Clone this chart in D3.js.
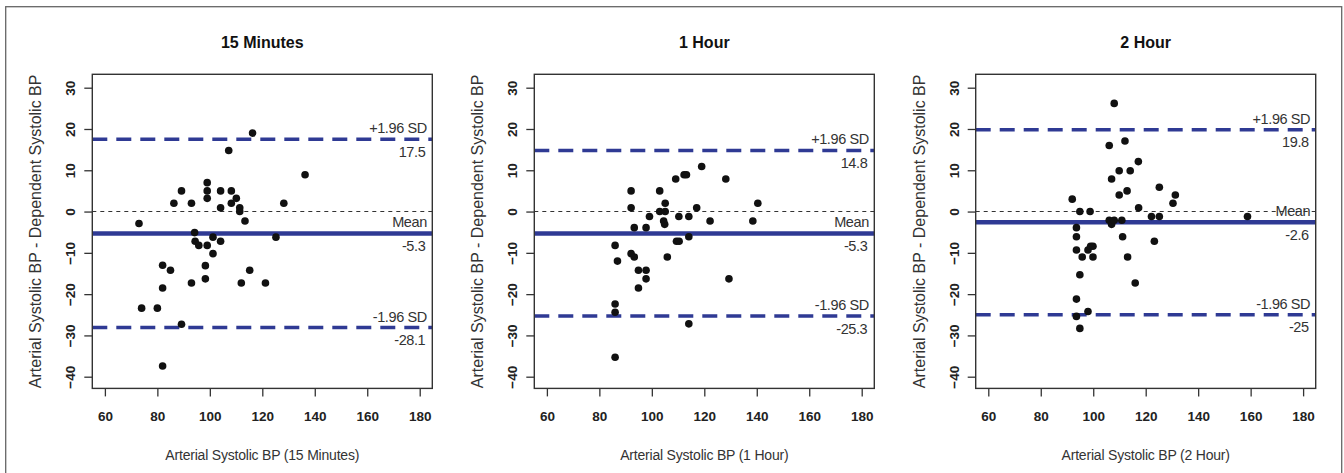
<!DOCTYPE html>
<html>
<head>
<meta charset="utf-8">
<script src="https://cdn.jsdelivr.net/npm/d3@7"></script>
<style>
  html, body { margin: 0; padding: 0; background: #fff; }
  svg { display: block; font-family: "Liberation Sans", Arial, Helvetica, sans-serif; }
</style>
</head>
<body>
<svg id="chart" width="1344" height="473"></svg>
<script>
// ---------------- data ----------------
const panelTitles = ["15 Minutes", "1 Hour", "2 Hour"];
const xTitles = ["Arterial Systolic BP (15 Minutes)", "Arterial Systolic BP (1 Hour)", "Arterial Systolic BP (2 Hour)"];
const yTitle = "Arterial Systolic BP - Dependent Systolic BP";
const xTicks = [60, 80, 100, 120, 140, 160, 180];
const yTicks = [-40, -30, -20, -10, 0, 10, 20, 30];
const meanValues = [-5.3, -5.3, -2.6];
const upperValues = [17.5, 14.8, 19.8];
const lowerValues = [-28.1, -25.3, -25];
const meanLabels = ["-5.3", "-5.3", "-2.6"];
const upperLabels = ["17.5", "14.8", "19.8"];
const lowerLabels = ["-28.1", "-25.3", "-25"];

const min15X = [73, 74, 80, 82, 82, 82, 85, 86.3, 89.2, 89.2, 93, 93, 94.2, 94.4, 95.8, 98.3, 98.3, 99, 99, 99, 99, 101.2, 101.2, 104.1, 104.1, 104.1, 107.2, 108.2, 108.2, 110.1, 111.4, 111.4, 112, 113.4, 115.2, 116.3, 121.2, 125.2, 128.2, 136.3];
const min15Y = [-2.9, -23.4, -23.4, -13, -18.5, -37.4, -14.2, 2, 5, -27.3, 2, -17.3, -5.1, -7.2, -8.2, -13.1, -16.3, 7, 5, 3.2, -8.2, -6.2, -10.2, 5, 0.9, -7.2, 14.8, 5, 2, 3.2, 0.9, 0, -17.3, -2.3, -14.2, 19, -17.3, -6.2, 2, 8.9];

const hour1X = [86, 86, 86, 86, 86.9, 92.1, 92.1, 92.1, 93.3, 93.3, 94.9, 94.9, 97.8, 97.8, 97.8, 99.1, 103, 103, 105.1, 104.5, 104.9, 105.1, 105.9, 109.1, 109.4, 110.4, 110.3, 112.3, 113.2, 114.1, 114.1, 114.1, 117.1, 119, 122.2, 128.2, 129.4, 138.5, 140.4];
const hour1Y = [-8.2, -22.4, -24.4, -35.3, -12, 5, 0.9, -10.2, -3.9, -11, -14.2, -18.5, -3.9, -14.2, -16.3, -1.2, 5, 0, 2, -2.3, -3.1, 0, -11, 7.9, -7.2, -7.2, -1.2, 8.9, 8.9, -1.2, -6.1, -27.2, 0.9, 10.9, -2.3, 7.9, -16.3, -2.3, 2];

const hour2X = [92, 93.6, 93.6, 93.6, 93.6, 93.6, 94.9, 94.9, 94.9, 95.8, 98, 98, 98.8, 99, 99.9, 99.9, 106.1, 106.1, 107, 107, 108, 108, 109.9, 109.9, 110.9, 111.2, 112.1, 112.9, 113.1, 114.1, 116, 117.2, 117.3, 122.2, 123.3, 125.2, 125.2, 130.4, 131.3, 158.8];
const hour2Y = [3, -3.9, -6.1, -9.3, -21.2, -25.4, 0, -15.3, -28.3, -11, -9.3, -24.2, 0, -8.4, -8.4, -11, 16, -2.1, 7.9, -3.1, 26.2, -2.1, 9.9, 4, -2.1, -6.1, 17.1, 5, -11, 9.9, -17.3, 12.1, 0.9, -1.2, -7.2, -1.2, 5.9, 2, 4, -1.2];

const seriesX = [min15X, hour1X, hour2X];
const seriesY = [min15Y, hour1Y, hour2Y];

// ---------------- layout ----------------
const panelLefts = [92.3, 534.3, 975.7];
const plotW = 340;
const boxTop = 74.3, boxBottom = 388.4;
const blue = "#2f3a94";

const svg = d3.select("#chart");

// outer figure border
svg.append("rect")
  .attr("x", 5.7).attr("y", 6.7)
  .attr("width", 1336).attr("height", 490)
  .attr("fill", "none").attr("stroke", "#666").attr("stroke-width", 1.3);

panelTitles.forEach((title, i) => {
  const left = panelLefts[i];
  const x = d3.scaleLinear().domain([55.2, 184.8]).range([left, left + plotW]);
  const y = d3.scaleLinear().domain([-40, 30]).range([376.7, 87.7]);
  const g = svg.append("g");
  const right = left + plotW;

  const clipId = "clip" + i;
  svg.append("clipPath").attr("id", clipId)
    .append("rect").attr("x", left).attr("y", boxTop)
    .attr("width", plotW).attr("height", boxBottom - boxTop);
  const inner = g.append("g").attr("clip-path", `url(#${clipId})`);

  // zero line
  inner.append("line")
    .attr("x1", left).attr("x2", right)
    .attr("y1", y(0)).attr("y2", y(0))
    .attr("stroke", "#333").attr("stroke-width", 1.1)
    .attr("stroke-dasharray", "4,4");

  // mean line
  inner.append("line")
    .attr("x1", left).attr("x2", right)
    .attr("y1", y(meanValues[i])).attr("y2", y(meanValues[i]))
    .attr("stroke", blue).attr("stroke-width", 4.6);

  // limits
  [upperValues[i], lowerValues[i]].forEach(v => {
    inner.append("line")
      .attr("x1", left).attr("x2", right)
      .attr("y1", y(v)).attr("y2", y(v))
      .attr("stroke", blue).attr("stroke-width", 3.6)
      .attr("stroke-dasharray", "15,9");
  });

  // points
  inner.selectAll("circle")
    .data(seriesX[i].map((d, k) => [d, seriesY[i][k]]))
    .join("circle")
    .attr("cx", d => x(d[0]))
    .attr("cy", d => y(d[1]))
    .attr("r", 3.8)
    .attr("fill", "#111");

  // annotations
  const ann = [
    [upperValues[i], "+1.96 SD", upperLabels[i]],
    [meanValues[i], "Mean", meanLabels[i]],
    [lowerValues[i], "-1.96 SD", lowerLabels[i]]
  ];
  ann.forEach(([v, lab, val]) => {
    g.append("text")
      .attr("x", right - 5.5).attr("y", y(v) - 6)
      .attr("text-anchor", "end")
      .attr("font-size", 14.5).attr("fill", "#333")
      .attr("letter-spacing", -0.4)
      .text(lab);
    g.append("text")
      .attr("x", right - 7).attr("y", y(v) + 17.5)
      .attr("text-anchor", "end")
      .attr("font-size", 14.5).attr("fill", "#333")
      .attr("letter-spacing", -0.4)
      .text(val);
  });

  // box
  g.append("rect")
    .attr("x", left).attr("y", boxTop)
    .attr("width", plotW).attr("height", boxBottom - boxTop)
    .attr("fill", "none").attr("stroke", "#333").attr("stroke-width", 1.4);

  // x axis
  const xAxis = g.append("g")
    .attr("transform", `translate(0,${boxBottom})`)
    .call(d3.axisBottom(x).tickValues(xTicks).tickSize(8).tickPadding(15).tickFormat(d3.format("d")));
  xAxis.select(".domain").remove();
  xAxis.selectAll("line").attr("stroke", "#333").attr("stroke-width", 1.3);
  xAxis.selectAll("text")
    .attr("font-size", 13.5).attr("font-weight", "bold").attr("fill", "#222")
    .attr("font-family", "Liberation Sans, Arial, sans-serif");

  // y axis
  const yAxis = g.append("g")
    .attr("transform", `translate(${left},0)`)
    .call(d3.axisLeft(y).tickValues(yTicks).tickSize(8).tickFormat(d3.format("d")));
  yAxis.select(".domain").remove();
  yAxis.selectAll("line").attr("stroke", "#333").attr("stroke-width", 1.3);
  yAxis.selectAll("text")
    .attr("x", 0).attr("dy", "0.36em")
    .attr("text-anchor", "middle")
    .attr("transform", "translate(-22,0) rotate(-90)")
    .attr("font-size", 13.5).attr("font-weight", "bold").attr("fill", "#222")
    .attr("font-family", "Liberation Sans, Arial, sans-serif");

  // titles
  g.append("text")
    .attr("x", (left + right) / 2).attr("y", 47.5)
    .attr("text-anchor", "middle")
    .attr("font-size", 16).attr("font-weight", "bold").attr("fill", "#111")
    .text(title);

  g.append("text")
    .attr("x", (left + right) / 2).attr("y", 460)
    .attr("text-anchor", "middle")
    .attr("font-size", 14).attr("fill", "#333")
    .attr("letter-spacing", -0.2)
    .text(xTitles[i]);

  g.append("text")
    .attr("transform", `translate(${left - 51},${(boxTop + boxBottom) / 2}) rotate(-90)`)
    .attr("text-anchor", "middle")
    .attr("font-size", 16).attr("fill", "#333")
    .text(yTitle);
});
</script>
</body>
</html>
